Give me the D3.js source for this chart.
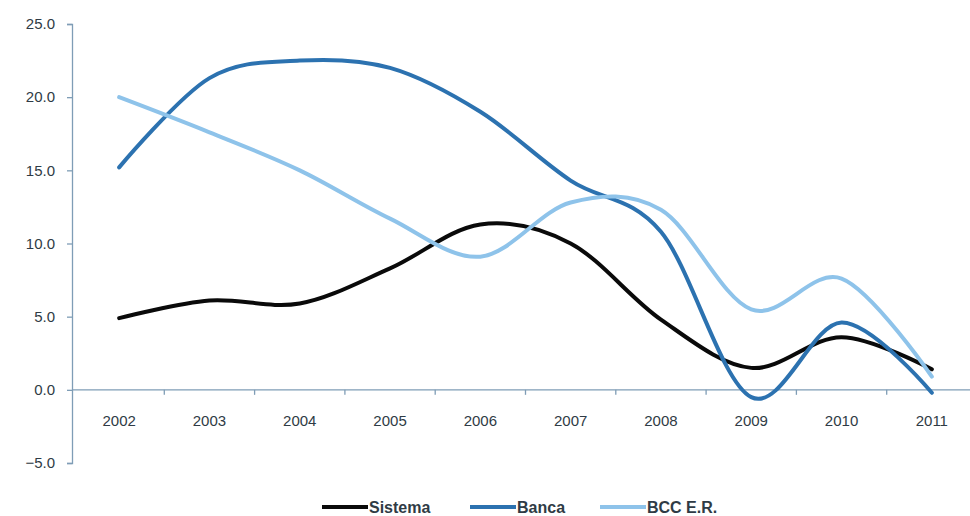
<!DOCTYPE html>
<html>
<head>
<meta charset="utf-8">
<script src="https://cdn.jsdelivr.net/npm/d3@7/dist/d3.min.js"></script>
<style>
  html, body { margin: 0; padding: 0; background: #fff; }
  svg { display: block; }
</style>
</head>
<body>
<svg id="chart" width="970" height="516"></svg>
<script>
// Annual values by year, three series
const years = ["2002","2003","2004","2005","2006","2007","2008","2009","2010","2011"];
const sistema = [4.9, 6.1, 5.9, 8.3, 11.3, 10.0, 4.8, 1.5, 3.6, 1.4];
const banca   = [15.2, 21.3, 22.5, 22.0, 19.0, 14.3, 10.8, -0.5, 4.6, -0.2];
const bcc     = [20.0, 17.6, 15.0, 11.7, 9.1, 12.8, 12.3, 5.5, 7.6, 0.9];
const yTicks  = [-5, 0, 5, 10, 15, 20, 25];

const seriesList = [
  { name: "Sistema", values: sistema, color: "#0a0a0a" },
  { name: "Banca",   values: banca,   color: "#2c72b0" },
  { name: "BCC E.R.", values: bcc,    color: "#8ec3ea" }
];

const svg = d3.select("#chart");
const axisColor = "#7f9db6";
const textColor = "#2f3b45";
const fontFam = '"Liberation Sans Narrow", "Arial Narrow", "Liberation Sans", sans-serif';

const x = d3.scaleBand().domain(years).range([74, 977]);
const y = d3.scaleLinear().domain([-5, 25]).range([463, 24]);

// Y axis
const yAxis = svg.append("g")
  .attr("transform", "translate(72,0)")
  .call(d3.axisLeft(y).tickValues(yTicks).tickSize(5).tickPadding(12).tickFormat(d3.format(".1f")));
yAxis.select(".domain").attr("stroke", axisColor).attr("stroke-width", 1.3);
yAxis.selectAll(".tick line").attr("stroke", axisColor).attr("stroke-width", 1.3);
yAxis.selectAll(".tick text").attr("fill", textColor).style("font-size", "15px").style("font-family", fontFam);

// X axis along zero, ticks at band boundaries
const xAxisG = svg.append("g").attr("transform", `translate(0,${y(0)})`);
xAxisG.append("line")
  .attr("x1", 72).attr("x2", 977)
  .attr("stroke", axisColor).attr("stroke-width", 1.3);
years.forEach((yr, i) => {
  if (i > 0) {
    xAxisG.append("line")
      .attr("x1", x(yr)).attr("x2", x(yr))
      .attr("y1", 0).attr("y2", 5)
      .attr("stroke", axisColor).attr("stroke-width", 1.3);
  }
  xAxisG.append("text")
    .attr("x", x(yr) + x.bandwidth() / 2)
    .attr("y", 36)
    .attr("text-anchor", "middle")
    .attr("fill", textColor)
    .style("font-size", "15px")
    .style("font-family", fontFam)
    .text(yr);
});

// Smoothed lines
const line = d3.line()
  .x((d, i) => x(years[i]) + x.bandwidth() / 2)
  .y(d => y(d))
  .curve(d3.curveCardinal.tension(0));

svg.append("g").selectAll("path")
  .data(seriesList)
  .join("path")
  .attr("d", s => line(s.values))
  .attr("fill", "none")
  .attr("stroke", s => s.color)
  .attr("stroke-width", 4)
  .attr("stroke-linecap", "round")
  .attr("stroke-linejoin", "round");

// Legend
const legendX = [322, 470, 600];
const legend = svg.append("g");
seriesList.forEach((s, i) => {
  const g = legend.append("g").attr("transform", `translate(${legendX[i]},507)`);
  g.append("line").attr("x1", 0).attr("x2", 46).attr("stroke", s.color).attr("stroke-width", 4);
  g.append("text")
    .attr("x", 47).attr("y", 6)
    .attr("fill", textColor)
    .style("font-size", "16px")
    .style("font-weight", "bold")
    .style("font-family", fontFam)
    .text(s.name);
});
</script>
</body>
</html>
